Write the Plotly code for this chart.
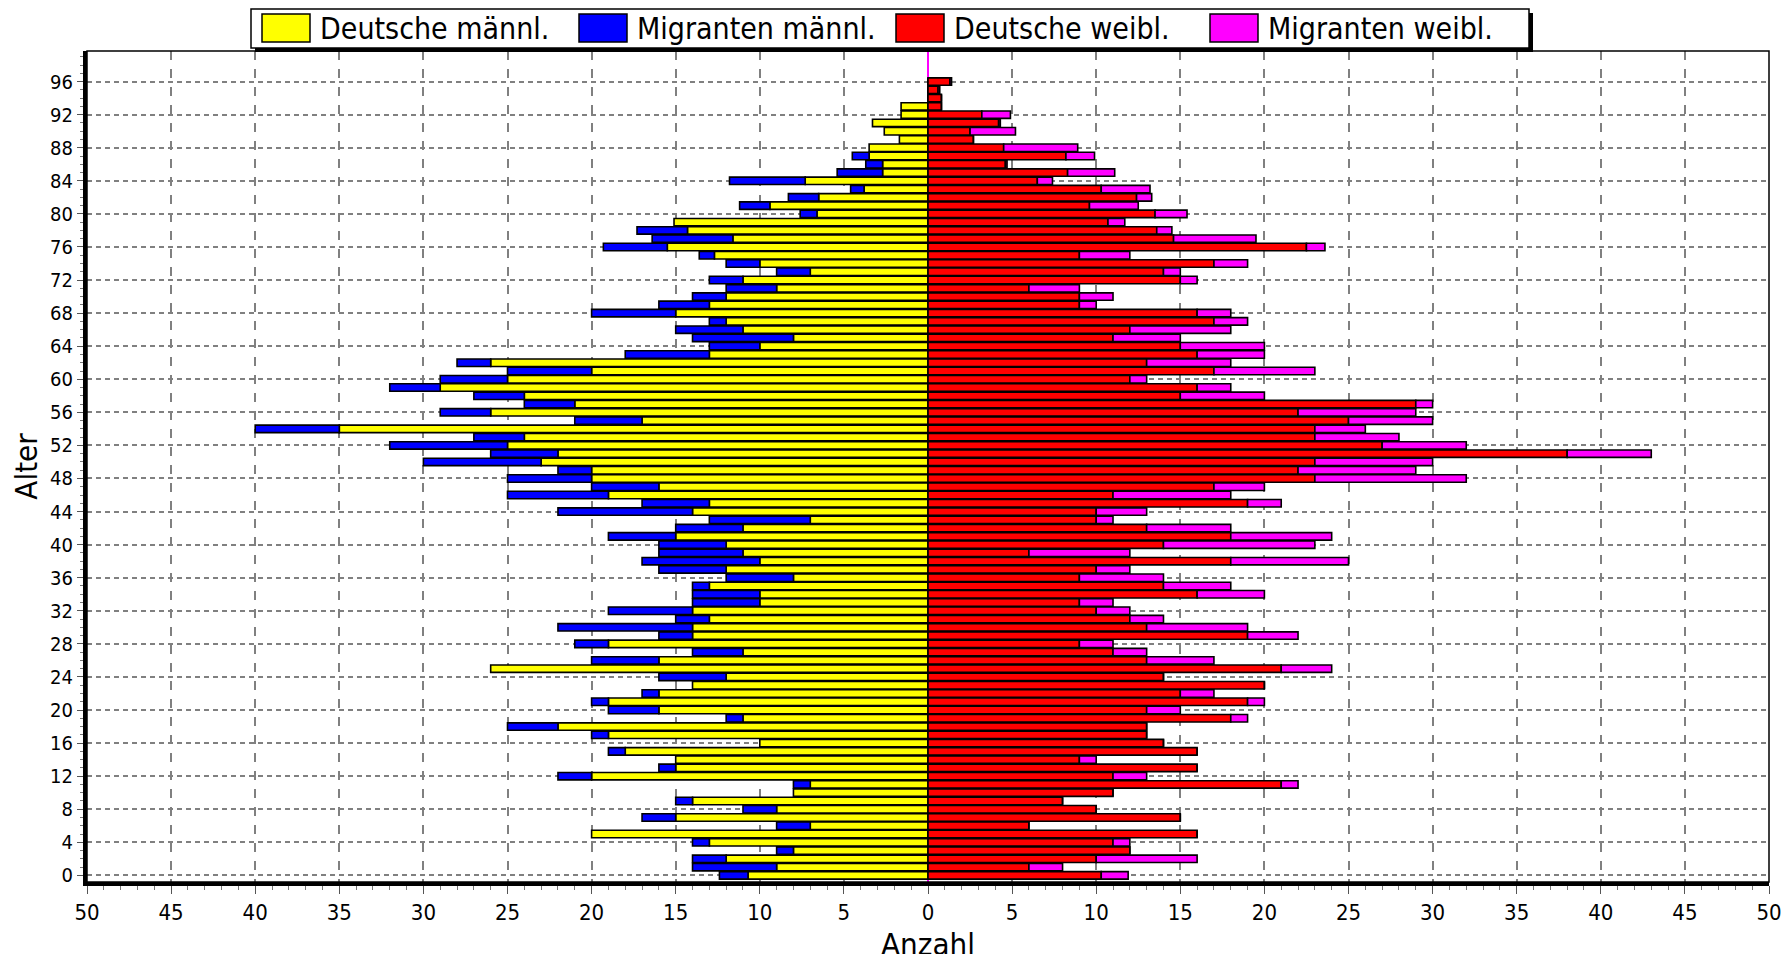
import plotly.graph_objects as go

# ages 0..96, values
alter = list(range(0, 97))

deutsche_maennl = [
    10.7, 9, 12, 8, 13, 20, 7, 15, 9, 14,
    8, 7, 20, 15, 15, 18, 10, 19, 22, 11,
    16, 19, 16, 14, 12, 26, 16, 11, 19, 14,
    14, 13, 14, 10, 10, 13, 8, 12, 10, 11,
    12, 15, 11, 7, 14, 13, 19, 16, 20, 20,
    23, 22, 25, 24, 35, 17, 26, 21, 24, 29,
    25, 20, 26, 13, 10, 8, 11, 12, 15, 13,
    12, 9, 11, 7, 10, 12.7, 15.5, 11.6, 14.3, 15.1,
    6.6, 9.4, 6.5, 3.8, 7.3, 2.7, 2.7, 3.5, 3.5, 1.7,
    2.6, 3.3, 1.6, 1.6, 0, 0, 0,
]
migranten_maennl = [
    1.7, 5, 2, 1, 1, 0, 2, 2, 2, 1,
    0, 1, 2, 1, 0, 1, 0, 1, 3, 1,
    3, 1, 1, 0, 4, 0, 4, 3, 2, 2,
    8, 2, 5, 4, 4, 1, 4, 4, 7, 5,
    4, 4, 4, 6, 8, 4, 6, 4, 5, 2,
    7, 4, 7, 3, 5, 4, 3, 3, 3, 3,
    4, 5, 2, 5, 3, 6, 4, 1, 5, 3,
    2, 3, 2, 2, 2, 0.9, 3.8, 4.8, 3.0, 0,
    1.0, 1.8, 1.8, 0.8, 4.5, 2.7, 1.0, 1.0, 0, 0,
    0, 0, 0, 0, 0, 0, 0,
]
deutsche_weibl = [
    10.3, 6, 10, 12, 11, 16, 6, 15, 10, 8,
    11, 21, 11, 16, 9, 16, 14, 13, 13, 18,
    13, 19, 15, 20, 14, 21, 13, 11, 9, 19,
    13, 12, 10, 9, 16, 14, 9, 10, 18, 6,
    14, 18, 13, 10, 10, 19, 11, 17, 23, 22,
    23, 38, 27, 23, 23, 25, 22, 29, 15, 16,
    12, 17, 13, 16, 15, 11, 12, 17, 16, 9,
    9, 6, 15, 14, 17, 9, 22.5, 14.6, 13.6, 10.7,
    13.5, 9.6, 12.4, 10.3, 6.5, 8.3, 4.6, 8.2, 4.5, 2.7,
    2.5, 4.2, 3.2, 0.8, 0.8, 0.6, 1.3,
]
migranten_weibl = [
    1.6, 2, 6, 0, 1, 0, 0, 0, 0, 0,
    0, 1, 2, 0, 1, 0, 0, 0, 0, 1,
    2, 1, 2, 0, 0, 3, 4, 2, 2, 3,
    6, 2, 2, 2, 4, 4, 5, 2, 7, 6,
    9, 6, 5, 1, 3, 2, 7, 3, 9, 7,
    7, 5, 5, 5, 3, 5, 7, 1, 5, 2,
    1, 6, 5, 4, 5, 4, 6, 2, 2, 1,
    2, 3, 1, 1, 2, 3, 1.1, 4.9, 0.9, 1.0,
    1.9, 2.9, 0.9, 2.9, 0.9, 2.8, 0.1, 1.7, 4.4, 0,
    2.7, 0.1, 1.7, 0, 0, 0.1, 0.1,
]

x_ticks = list(range(-50, 51, 5))
x_ticktext = [str(abs(v)) for v in x_ticks]
y_ticks = list(range(0, 97, 4))

FONT = "Liberation Sans Narrow, DejaVu Sans Condensed, Liberation Sans, Arial, sans-serif"
BORDER = dict(color="black", width=1.6)

# the html page adds an 8px body margin, so the figure is drawn 16px smaller
# and all window positions below are shifted by that offset
PAGE_PAD = 8
W, H = 1792 - 2 * PAGE_PAD, 962 - 2 * PAGE_PAD
PLOT_L, PLOT_R, PLOT_T, PLOT_B = 87, 1769, 51, 882  # window pixels
ML, MT = PLOT_L - PAGE_PAD, PLOT_T - PAGE_PAD
MR, MB = W - (PLOT_R - PAGE_PAD), H - (PLOT_B - PAGE_PAD)
PW, PH = PLOT_R - PLOT_L, PLOT_B - PLOT_T


def px(x):
    return (x - PLOT_L) / PW


def py(y):
    return (PLOT_B - y) / PH


fig = go.Figure()
series = [
    ("Deutsche männl.", [-v for v in deutsche_maennl], "#ffff00"),
    ("Migranten männl.", [-v for v in migranten_maennl], "#0000ff"),
    ("Deutsche weibl.", deutsche_weibl, "#ff0000"),
    ("Migranten weibl.", migranten_weibl, "#ff00ff"),
]
for name, vals, color in series:
    fig.add_trace(
        go.Bar(
            y=alter,
            x=vals,
            orientation="h",
            name=name,
            marker=dict(color=color, line=BORDER),
        )
    )

# hand-drawn legend box (windows style, with drop shadow and big swatches)
shapes = [
    dict(type="rect", xref="paper", yref="paper",
         x0=px(255), x1=px(1533), y0=py(52), y1=py(13),
         fillcolor="black", line=dict(width=0), layer="above"),
    dict(type="rect", xref="paper", yref="paper",
         x0=px(251), x1=px(1529), y0=py(48), y1=py(9),
         fillcolor="white", line=dict(color="black", width=1.5), layer="above"),
]
annotations = []
swatch_x = [262, 579, 896, 1210]
for (name, _, color), sx in zip(series, swatch_x):
    shapes.append(
        dict(type="rect", xref="paper", yref="paper",
             x0=px(sx), x1=px(sx + 48), y0=py(42), y1=py(14),
             fillcolor=color, line=dict(color="black", width=1.5), layer="above")
    )
    annotations.append(
        dict(text=name, xref="paper", yref="paper", x=px(sx + 56), y=py(29),
             xanchor="left", yanchor="middle", showarrow=False,
             font=dict(size=30, family=FONT, color="black"))
    )

# x axis title, placed by hand below the tick labels
annotations.append(
    dict(text="Anzahl", xref="paper", yref="paper", x=0.5, y=py(944),
         xanchor="center", yanchor="middle", showarrow=False,
         font=dict(size=31, family=FONT, color="black"))
)

# plot frame (thin top/right edge)
shapes.append(
    dict(type="rect", xref="paper", yref="paper", x0=0, x1=1, y0=0, y1=1,
         line=dict(color="black", width=1.5), layer="above")
)

fig.update_layout(
    width=W,
    height=H,
    barmode="relative",
    bargap=0.1,
    showlegend=False,
    plot_bgcolor="white",
    paper_bgcolor="white",
    font=dict(family=FONT, color="black", size=20),
    margin=dict(l=ML, r=MR, t=MT, b=MB),
    shapes=shapes,
    annotations=annotations,
    xaxis=dict(
        range=[-50, 50],
        tickvals=x_ticks,
        ticktext=x_ticktext,
        ticks="outside",
        ticklen=8,
        tickcolor="#555555",
        tickfont=dict(size=22),
        minor=dict(dtick=1, ticks="outside", ticklen=4, tickcolor="#777777", showgrid=False),
        showgrid=True,
        gridcolor="#808080",
        gridwidth=1.5,
        griddash="9px,9px",
        zeroline=True,
        zerolinecolor="#ff00ff",
        zerolinewidth=1.5,
        showline=True,
        linecolor="black",
        linewidth=4,
        automargin=False,
    ),
    yaxis=dict(
        range=[-0.8, 99.7],
        tickvals=y_ticks,
        ticks="outside",
        ticklen=6,
        tickcolor="#555555",
        tickfont=dict(size=20),
        minor=dict(dtick=1, ticks="outside", ticklen=3, tickcolor="#777777", showgrid=False),
        showgrid=True,
        gridcolor="#808080",
        gridwidth=1.5,
        griddash="5px,4px",
        zeroline=False,
        showline=True,
        linecolor="black",
        linewidth=4,
        automargin=False,
        title=dict(text="Alter", font=dict(size=31), standoff=4),
    ),
)

fig.write_html("out.html")
